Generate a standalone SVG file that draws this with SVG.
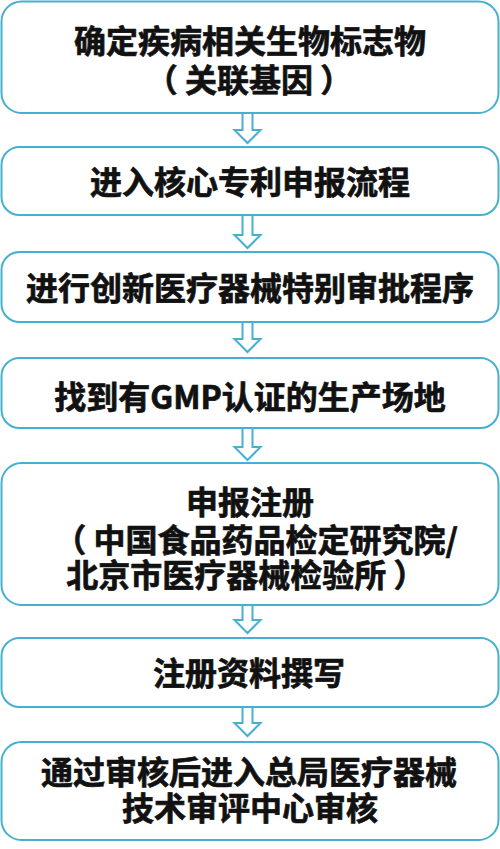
<svg xmlns="http://www.w3.org/2000/svg" width="500" height="849" viewBox="0 0 500 849">
<style>
.box{fill:#ffffff;stroke:#45b0cf;stroke-width:2}
.arr{fill:#ffffff;stroke:#45b0cf;stroke-width:2;stroke-linejoin:miter}
.t{font-family:"Noto Sans CJK SC","Noto Sans",sans-serif;font-weight:700;font-size:32px;fill:#111111;stroke:#111111;stroke-width:0.7;text-anchor:middle}
</style>
<rect width="500" height="849" fill="#ffffff"/>
<g id="connectors">
<path class="arr" d="M242.5,113 V130 H234.5 L247.5,143 L260.5,130 H252.5 V113"/>
<path class="arr" d="M242.5,215 V235 H234.5 L247.5,248 L260.5,235 H252.5 V215"/>
<path class="arr" d="M242.5,322 V339 H234.5 L247.5,352 L260.5,339 H252.5 V322"/>
<path class="arr" d="M242.5,428 V447 H234.5 L247.5,460 L260.5,447 H252.5 V428"/>
<path class="arr" d="M242.5,605 V620 H234.5 L247.5,633 L260.5,620 H252.5 V605"/>
<path class="arr" d="M242.5,707 V723 H234.5 L247.5,736 L260.5,723 H252.5 V707"/>
</g>
<g id="n1">
<rect class="box" x="1.5" y="1.5" width="497" height="111.5" rx="20"/>
<text class="t"><tspan x="250" y="53">确定疾病相关生物标志物</tspan><tspan x="249" y="92">（ 关联基因 ）</tspan></text>
</g>
<g id="n2">
<rect class="box" x="1.5" y="147" width="497" height="68" rx="18"/>
<text class="t" x="250" y="194">进入核心专利申报流程</text>
</g>
<g id="n3">
<rect class="box" x="1.5" y="252" width="497" height="70" rx="18"/>
<text class="t" x="250" y="300">进行创新医疗器械特别审批程序</text>
</g>
<g id="n4">
<rect class="box" x="1.5" y="358" width="497" height="70" rx="18"/>
<text class="t" x="250" y="409">找到有GMP认证的生产场地</text>
</g>
<g id="n5">
<rect class="box" x="1.5" y="463" width="497" height="142" rx="20"/>
<text class="t"><tspan x="250" y="514">申报注册</tspan><tspan x="256" y="552">（ 中国食品药品检定研究院/</tspan><tspan x="246" y="587">北京市医疗器械检验所 ）</tspan></text>
</g>
<g id="n6">
<rect class="box" x="1.5" y="638" width="497" height="69" rx="18"/>
<text class="t" x="249" y="685">注册资料撰写</text>
</g>
<g id="n7">
<rect class="box" x="1.5" y="742" width="497" height="98" rx="20"/>
<text class="t"><tspan x="249" y="784">通过审核后进入总局医疗器械</tspan><tspan x="250" y="820">技术审评中心审核</tspan></text>
</g>
</svg>
